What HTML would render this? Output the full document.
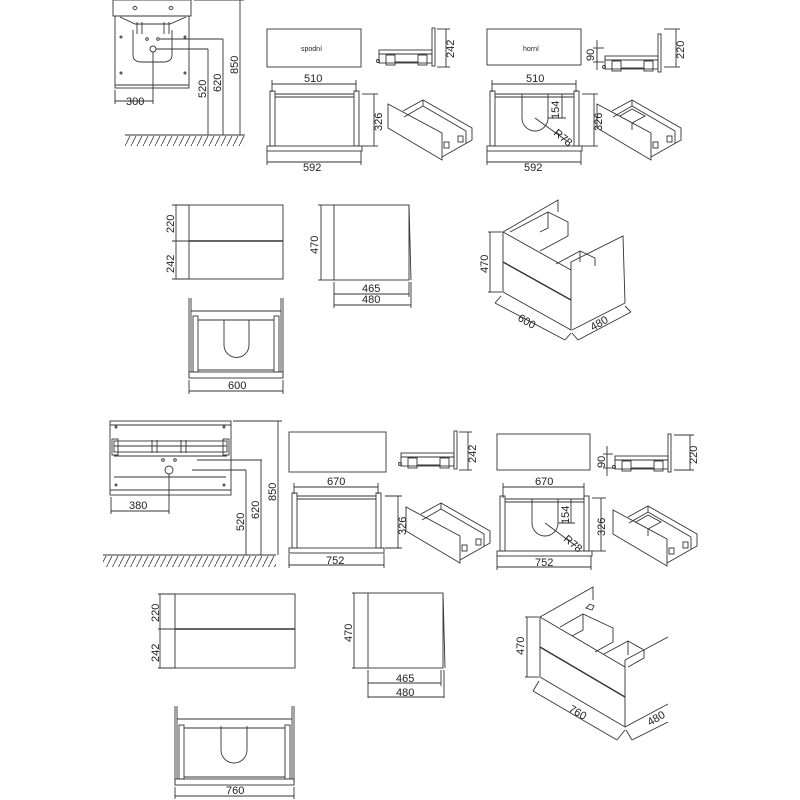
<!DOCTYPE html>
<html><head><meta charset="utf-8"><style>
html,body{margin:0;padding:0;background:#fff;}
svg{display:block;}
text{font-family:"Liberation Sans",sans-serif;font-size:11px;fill:#222;}
</style></head><body>
<svg width="800" height="800" viewBox="0 0 800 800" xmlns="http://www.w3.org/2000/svg">
<defs>
<pattern id="hatch" width="6" height="12" patternUnits="userSpaceOnUse">
<line x1="6" y1="0" x2="0" y2="12" stroke="#333" stroke-width="0.8"/>
</pattern>
<g id="side" fill="none" stroke="#333" stroke-width="0.9">
<rect x="379" y="50" width="53" height="13"/>
<line x1="379" y1="54" x2="432" y2="54"/>
<rect x="386" y="55" width="9" height="10"/><rect x="418" y="55" width="9" height="10"/>
<line x1="395" y1="62" x2="418" y2="62"/>
<rect x="432" y="28" width="3" height="38"/>
<circle cx="378" cy="61" r="1.5"/>
</g>
<g id="iso" fill="none" stroke="#333" stroke-width="0.9">
<polygon points="388,104 442,133 442,160 388,128" fill="#fff"/>
<polyline points="403,111 423,100 472,128 472,140 442,157"/>
<line x1="423" y1="100" x2="423" y2="106"/>
<line x1="423" y1="106" x2="466" y2="131"/>
<line x1="404" y1="117" x2="423" y2="106"/>
<line x1="466" y1="131" x2="466" y2="143"/>
<rect x="444" y="142" width="5" height="6"/><rect x="458" y="136" width="5" height="6"/>
</g>
<g id="front" fill="none" stroke="#333" stroke-width="0.9">
<rect x="270" y="91" width="5" height="55"/><rect x="354" y="91" width="5" height="55"/>
<line x1="275" y1="94" x2="354" y2="94"/>
<line x1="275" y1="97" x2="354" y2="97"/>
<rect x="267" y="146" width="95" height="5"/>
</g>
</defs>

<g stroke="#333" stroke-width="0.9" fill="none">
<rect x="113" y="0" width="78" height="16"/>
<rect x="115" y="16" width="74" height="72"/>
<line x1="115" y1="85" x2="189" y2="85"/>
<path d="M120,17 L135,24 L170,24 L186,17"/>
<path d="M133,30 V55 Q133,62 142,62 H163 Q172,62 172,55 V30"/>
<line x1="137" y1="22" x2="137" y2="34"/><line x1="142" y1="22" x2="142" y2="34"/>
<line x1="164" y1="22" x2="164" y2="34"/><line x1="169" y1="22" x2="169" y2="34"/>
<ellipse cx="135" cy="8" rx="2" ry="1.5"/><ellipse cx="171" cy="8" rx="2" ry="1.5"/>
<circle cx="147" cy="39" r="1.3"/><circle cx="158" cy="39" r="1.3"/>
<circle cx="153" cy="49" r="3"/>
<circle cx="121" cy="37" r="1"/><circle cx="185" cy="37" r="1"/>
<circle cx="121" cy="73" r="1"/><circle cx="185" cy="73" r="1"/>
<line x1="160" y1="39" x2="223" y2="39"/><line x1="156" y1="49" x2="208" y2="49"/>
<line x1="153" y1="52" x2="153" y2="104"/>
<line x1="115" y1="90" x2="115" y2="104"/>
<line x1="115" y1="101" x2="153" y2="101"/>
<line x1="208" y1="49" x2="208" y2="135"/>
<line x1="223" y1="39" x2="223" y2="135"/>
<line x1="240" y1="0" x2="240" y2="135"/>
<line x1="194" y1="0" x2="244" y2="0"/>
<line x1="125" y1="135" x2="245" y2="135"/>
<rect x="125" y="136" width="120" height="10" fill="url(#hatch)" stroke="none"/>

<rect x="267" y="29" width="94" height="38"/>
<use href="#side"/>
<line x1="437" y1="29" x2="450" y2="29"/><line x1="437" y1="67" x2="450" y2="67"/>
<line x1="446" y1="29" x2="446" y2="67"/>
<use href="#front"/>
<line x1="272" y1="84" x2="356" y2="84"/><line x1="272" y1="80" x2="272" y2="92"/><line x1="356" y1="80" x2="356" y2="92"/>
<line x1="267" y1="162" x2="361" y2="162"/><line x1="267" y1="151" x2="267" y2="165"/><line x1="361" y1="151" x2="361" y2="165"/>
<line x1="362" y1="94" x2="378" y2="94"/><line x1="362" y1="146" x2="378" y2="146"/><line x1="374" y1="94" x2="374" y2="146"/>
<use href="#iso"/>

<rect x="487" y="29" width="94" height="36"/>
<g transform="translate(226,6)"><use href="#side"/></g>
<line x1="597" y1="48" x2="597" y2="62"/><line x1="593" y1="48" x2="604" y2="48"/><line x1="593" y1="62" x2="604" y2="62"/>
<line x1="597" y1="40" x2="597" y2="70"/>
<line x1="664" y1="29" x2="680" y2="29"/><line x1="664" y1="67" x2="680" y2="67"/><line x1="676" y1="29" x2="676" y2="67"/>
<g transform="translate(220,0)"><use href="#front"/></g>
<path d="M522,94 V118 A13,13 0 0 0 548,118 V94"/>
<line x1="535" y1="118" x2="567" y2="141"/>
<line x1="548" y1="94" x2="566" y2="94"/><line x1="562" y1="94" x2="562" y2="118"/><line x1="548" y1="118" x2="566" y2="118"/>
<line x1="492" y1="84" x2="576" y2="84"/><line x1="492" y1="80" x2="492" y2="92"/><line x1="576" y1="80" x2="576" y2="92"/>
<line x1="487" y1="162" x2="581" y2="162"/><line x1="487" y1="151" x2="487" y2="165"/><line x1="581" y1="151" x2="581" y2="165"/>
<line x1="582" y1="94" x2="598" y2="94"/><line x1="582" y1="146" x2="598" y2="146"/><line x1="594" y1="94" x2="594" y2="146"/>
<g transform="translate(209,0)"><use href="#iso"/></g>
<polyline points="620,116 632,109 645,116 632,123"/>
<line x1="632" y1="123" x2="632" y2="130"/>

<rect x="189" y="205" width="94" height="74"/>
<line x1="189" y1="241" x2="283" y2="241" stroke-width="1.5"/>
<line x1="172" y1="205" x2="189" y2="205"/><line x1="172" y1="241" x2="189" y2="241"/><line x1="172" y1="279" x2="189" y2="279"/>
<line x1="176" y1="205" x2="176" y2="279"/>
<rect x="334" y="205" width="75" height="75"/>
<line x1="409" y1="205" x2="411" y2="280"/>
<line x1="318" y1="205" x2="334" y2="205"/><line x1="318" y1="280" x2="334" y2="280"/><line x1="321" y1="205" x2="321" y2="280"/>
<line x1="334" y1="282" x2="334" y2="308"/><line x1="409" y1="282" x2="409" y2="297"/><line x1="411" y1="282" x2="411" y2="308"/>
<line x1="334" y1="294" x2="409" y2="294"/><line x1="334" y1="305" x2="411" y2="305"/>
<line x1="189" y1="298" x2="189" y2="378"/><line x1="283" y1="298" x2="283" y2="378"/>
<line x1="191" y1="298" x2="191" y2="372"/><line x1="281" y1="298" x2="281" y2="372"/>
<line x1="191" y1="311" x2="281" y2="311"/>
<rect x="193" y="316" width="5" height="56"/><rect x="274" y="316" width="5" height="56"/>
<line x1="198" y1="320" x2="274" y2="320"/>
<path d="M224,320 V345 A12.5,12.5 0 0 0 249,345 V320"/>
<line x1="198" y1="370" x2="274" y2="370"/>
<rect x="189" y="372" width="94" height="6"/>
<line x1="189" y1="380" x2="189" y2="394"/><line x1="283" y1="380" x2="283" y2="394"/><line x1="189" y1="391" x2="283" y2="391"/>
<polygon points="503,232 571,270 571,330 503,292" fill="#fff"/>
<line x1="503" y1="262" x2="571" y2="300" stroke-width="1.4"/>
<polyline points="503,232 558,200 558,212"/>
<polyline points="571,270 571,262 623,236 625,303 572,330"/>
<polyline points="510,232 548,212 568,222 568,236 540,251"/>
<polyline points="548,212 548,228 540,232"/>
<polyline points="556,264 580,251 595,258 595,266"/>
<polyline points="580,251 580,262"/>
<line x1="488" y1="232" x2="502" y2="232"/><line x1="488" y1="292" x2="502" y2="292"/><line x1="490" y1="232" x2="490" y2="292"/>
<line x1="501" y1="296" x2="495" y2="303"/><line x1="571" y1="333" x2="565" y2="340"/>
<line x1="495" y1="303" x2="565" y2="340"/>
<line x1="572" y1="333" x2="578" y2="340"/><line x1="625" y1="306" x2="631" y2="312"/>
<line x1="578" y1="340" x2="631" y2="312"/>

<rect x="110" y="421" width="121" height="74"/>
<line x1="110" y1="425" x2="231" y2="425"/>
<line x1="110" y1="490" x2="231" y2="490"/>
<rect x="114" y="441" width="113" height="11"/>
<line x1="114" y1="446" x2="227" y2="446"/>
<line x1="152" y1="440" x2="152" y2="453"/><line x1="157" y1="440" x2="157" y2="453"/>
<line x1="181" y1="440" x2="181" y2="453"/><line x1="186" y1="440" x2="186" y2="453"/>
<rect x="112" y="439" width="6" height="16"/><rect x="223" y="439" width="6" height="16"/>
<line x1="114" y1="456" x2="227" y2="456"/>
<line x1="114" y1="477" x2="226" y2="477"/>
<circle cx="163" cy="460" r="1.3"/><circle cx="175" cy="460" r="1.3"/>
<circle cx="169" cy="470" r="4"/>
<circle cx="116" cy="427" r="1"/><circle cx="224" cy="427" r="1"/>
<circle cx="116" cy="485" r="1"/><circle cx="224" cy="485" r="1"/>
<line x1="197" y1="460" x2="262" y2="460"/><line x1="192" y1="470" x2="246" y2="470"/>
<line x1="169" y1="474" x2="169" y2="514"/>
<line x1="111" y1="497" x2="111" y2="514"/><line x1="111" y1="511" x2="169" y2="511"/>
<line x1="246" y1="470" x2="246" y2="555"/><line x1="261" y1="460" x2="261" y2="555"/>
<line x1="278" y1="421" x2="278" y2="555"/><line x1="233" y1="421" x2="282" y2="421"/>
<line x1="103" y1="555" x2="276" y2="555"/>
<rect x="103" y="556" width="173" height="11" fill="url(#hatch)" stroke="none"/>

<rect x="289" y="432" width="97" height="40"/>
<g transform="translate(22,403)"><use href="#side"/></g>
<line x1="459" y1="432" x2="472" y2="432"/><line x1="459" y1="470" x2="472" y2="470"/><line x1="468" y1="432" x2="468" y2="470"/>
<g transform="translate(22,402)"><use href="#front"/></g>
<line x1="294" y1="487" x2="378" y2="487"/><line x1="294" y1="483" x2="294" y2="494"/><line x1="378" y1="483" x2="378" y2="494"/>
<line x1="289" y1="565" x2="384" y2="565"/><line x1="289" y1="554" x2="289" y2="568"/><line x1="384" y1="554" x2="384" y2="568"/>
<line x1="385" y1="496" x2="402" y2="496"/><line x1="385" y1="548" x2="402" y2="548"/><line x1="398" y1="496" x2="398" y2="548"/>
<g transform="translate(18,403)"><use href="#iso"/></g>

<rect x="497" y="434" width="93" height="36"/>
<g transform="translate(236,406)"><use href="#side"/></g>
<line x1="607" y1="454" x2="607" y2="468"/><line x1="603" y1="454" x2="613" y2="454"/><line x1="603" y1="468" x2="613" y2="468"/>
<line x1="607" y1="446" x2="607" y2="476"/>
<line x1="674" y1="435" x2="694" y2="435"/><line x1="674" y1="470" x2="694" y2="470"/><line x1="690" y1="435" x2="690" y2="470"/>
<g transform="translate(230,405)"><use href="#front"/></g>
<path d="M532,499 V523 A13,13 0 0 0 558,523 V499"/>
<line x1="545" y1="523" x2="576" y2="546"/>
<line x1="558" y1="499" x2="575" y2="499"/><line x1="571" y1="499" x2="571" y2="523"/><line x1="558" y1="523" x2="575" y2="523"/>
<line x1="503" y1="487" x2="584" y2="487"/><line x1="503" y1="483" x2="503" y2="498"/><line x1="584" y1="483" x2="584" y2="498"/>
<line x1="497" y1="567" x2="591" y2="567"/><line x1="497" y1="556" x2="497" y2="570"/><line x1="591" y1="556" x2="591" y2="570"/>
<line x1="592" y1="498" x2="606" y2="498"/><line x1="592" y1="551" x2="606" y2="551"/><line x1="601" y1="498" x2="601" y2="551"/>
<g transform="translate(225,406)"><use href="#iso"/></g>
<polyline points="636,522 648,515 661,522 648,529"/>
<line x1="648" y1="529" x2="648" y2="536"/>

<rect x="175" y="594" width="120" height="74"/>
<line x1="175" y1="629" x2="295" y2="629" stroke-width="1.5"/>
<line x1="158" y1="594" x2="175" y2="594"/><line x1="158" y1="629" x2="175" y2="629"/><line x1="158" y1="668" x2="175" y2="668"/>
<line x1="160" y1="594" x2="160" y2="668"/>
<rect x="368" y="593" width="75" height="75"/>
<line x1="443" y1="593" x2="445" y2="668"/>
<line x1="352" y1="593" x2="368" y2="593"/><line x1="352" y1="668" x2="368" y2="668"/><line x1="354" y1="593" x2="354" y2="668"/>
<line x1="368" y1="670" x2="368" y2="698"/><line x1="441" y1="670" x2="441" y2="686"/><line x1="444" y1="670" x2="444" y2="698"/>
<line x1="368" y1="683" x2="441" y2="683"/><line x1="368" y1="697" x2="444" y2="697"/>
<line x1="175" y1="706" x2="175" y2="785"/><line x1="294" y1="706" x2="294" y2="785"/>
<line x1="177" y1="706" x2="177" y2="779"/><line x1="292" y1="706" x2="292" y2="779"/>
<line x1="177" y1="719" x2="292" y2="719"/>
<rect x="179" y="725" width="5" height="54"/><rect x="285" y="725" width="5" height="54"/>
<line x1="184" y1="728" x2="285" y2="728"/>
<path d="M221,726 V750 A13,13 0 0 0 247,750 V726"/>
<line x1="184" y1="777" x2="285" y2="777"/>
<rect x="175" y="779" width="119" height="6"/>
<line x1="175" y1="787" x2="175" y2="799"/><line x1="294" y1="787" x2="294" y2="799"/><line x1="175" y1="796" x2="294" y2="796"/>
<polygon points="540,617 625,667 625,727 540,677" fill="#fff"/>
<line x1="540" y1="647" x2="625" y2="697" stroke-width="1.4"/>
<polyline points="540,617 593,587 593,600"/>
<polyline points="625,667 625,660 668,637"/>
<polyline points="560,627 583,614 613,628 613,642 595,652"/>
<polyline points="583,614 583,630 572,636"/>
<polyline points="604,654 628,641 644,650 644,658 628,667"/>
<polyline points="628,641 628,655"/>
<polyline points="625,727 668,704"/>
<path d="M586,608 l4,-4 4,2 -2,4 z"/>
<line x1="525" y1="617" x2="539" y2="617"/><line x1="525" y1="677" x2="539" y2="677"/><line x1="527" y1="617" x2="527" y2="677"/>
<line x1="539" y1="681" x2="533" y2="691"/><line x1="625" y1="730" x2="617" y2="740"/>
<line x1="533" y1="691" x2="617" y2="740"/>
<line x1="626" y1="730" x2="632" y2="740"/>
<line x1="632" y1="740" x2="668" y2="722"/>
</g>

<g>
<text x="126" y="105">300</text>
<text transform="translate(206,98) rotate(-90)">520</text>
<text transform="translate(221,92) rotate(-90)">620</text>
<text transform="translate(238,74) rotate(-90)">850</text>
<text x="301" y="51" style="font-size:7px">spodní</text>
<text transform="translate(454,58) rotate(-90)">242</text>
<text x="304" y="82">510</text>
<text x="303" y="171">592</text>
<text transform="translate(382,131) rotate(-90)">326</text>
<text x="523" y="51" style="font-size:7px">horní</text>
<text transform="translate(594,61) rotate(-90)">90</text>
<text transform="translate(684,59) rotate(-90)">220</text>
<text x="526" y="82">510</text>
<text x="524" y="171">592</text>
<text transform="translate(559,119) rotate(-90)">154</text>
<text transform="translate(553,134) rotate(40)">R78</text>
<text transform="translate(602,131) rotate(-90)">326</text>
<text transform="translate(174,233) rotate(-90)">220</text>
<text transform="translate(174,273) rotate(-90)">242</text>
<text transform="translate(318,254) rotate(-90)">470</text>
<text x="362" y="292">465</text>
<text x="362" y="303">480</text>
<text x="228" y="389">600</text>
<text transform="translate(488,273) rotate(-90)">470</text>
<text transform="translate(517,320) rotate(30)">600</text>
<text transform="translate(593,331) rotate(-30)">480</text>
<text x="129" y="509">380</text>
<text transform="translate(244,531) rotate(-90)">520</text>
<text transform="translate(259,519) rotate(-90)">620</text>
<text transform="translate(276,501) rotate(-90)">850</text>
<text transform="translate(476,463) rotate(-90)">242</text>
<text x="327" y="485">670</text>
<text x="326" y="564">752</text>
<text transform="translate(406,535) rotate(-90)">326</text>
<text transform="translate(605,468) rotate(-90)">90</text>
<text transform="translate(697,464) rotate(-90)">220</text>
<text x="535" y="485">670</text>
<text x="535" y="566">752</text>
<text transform="translate(569,524) rotate(-90)">154</text>
<text transform="translate(563,540) rotate(40)">R78</text>
<text transform="translate(605,536) rotate(-90)">326</text>
<text transform="translate(159,622) rotate(-90)">220</text>
<text transform="translate(159,662) rotate(-90)">242</text>
<text transform="translate(352,642) rotate(-90)">470</text>
<text x="396" y="682">465</text>
<text x="396" y="696">480</text>
<text x="226" y="794">760</text>
<text transform="translate(524,655) rotate(-90)">470</text>
<text transform="translate(568,711) rotate(30)">760</text>
<text transform="translate(650,726) rotate(-30)">480</text>
</g>
</svg>
</body></html>
